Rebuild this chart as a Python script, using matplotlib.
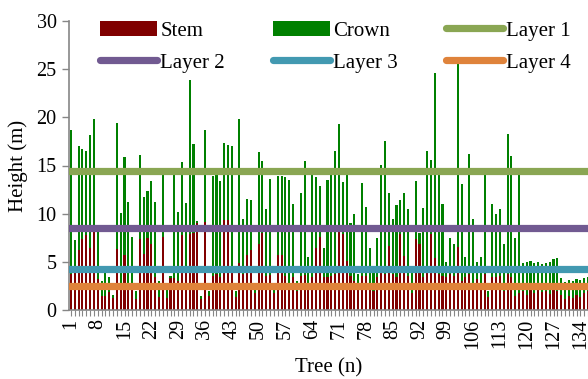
import numpy as np
import matplotlib
matplotlib.use("Agg")
import matplotlib.pyplot as plt

plt.rcParams['font.family'] = ['Liberation Serif', 'DejaVu Serif']

# hauteur totale et hauteur du tronc (m) pour chaque arbre
total = [18.7, 7.3, 17.0, 16.7, 16.5, 18.2, 19.8, 8.2, 3.0, 4.0,
         3.5, 1.6, 19.4, 10.1, 15.9, 11.2, 7.6, 2.0, 16.1, 11.7,
         12.4, 13.4, 11.2, 3.0, 14.1, 2.2, 3.6, 14.1, 10.2, 15.4,
         11.1, 23.9, 17.2, 9.3, 1.5, 18.7, 2.0, 13.9, 14.0, 13.4,
         17.3, 17.1, 17.0, 2.0, 19.8, 9.5, 11.5, 11.4, 2.5, 16.4,
         15.5, 10.5, 13.6, 2.5, 13.9, 13.9, 13.8, 13.5, 11.0, 3.0,
         12.1, 15.5, 5.5, 14.0, 13.8, 12.9, 6.5, 13.5, 14.0, 16.5,
         19.3, 13.3, 14.0, 9.0, 10.0, 3.8, 13.2, 10.7, 6.5, 4.0,
         7.5, 15.1, 17.5, 12.2, 9.5, 10.9, 11.4, 12.1, 10.5, 4.0,
         13.4, 8.0, 10.6, 16.5, 15.6, 24.6, 14.0, 11.0, 5.0, 7.5,
         6.9, 25.8, 13.1, 5.5, 16.2, 9.5, 5.0, 5.5, 14.0, 2.0,
         11.0, 10.0, 10.5, 6.9, 18.3, 16.0, 7.5, 14.0, 4.9, 5.0,
         5.1, 4.9, 5.0, 4.8, 4.9, 5.0, 5.3, 5.4, 3.3, 2.9,
         3.1, 3.0, 3.2, 3.1, 3.3, 3.5]
stem = [3.8, 4.0, 6.2, 7.4, 7.8, 6.5, 8.2, 3.2, 1.5, 1.5,
        1.9, 1.3, 6.4, 2.8, 5.7, 2.5, 2.3, 1.2, 7.4, 5.8,
        7.5, 6.9, 3.5, 1.4, 7.6, 1.3, 3.3, 3.3, 3.0, 7.8,
        4.2, 7.9, 8.0, 9.0, 1.2, 9.1, 1.5, 3.6, 3.8, 3.5,
        9.4, 9.4, 3.9, 1.4, 4.9, 3.8, 5.7, 6.2, 1.8, 6.9,
        8.0, 3.6, 3.7, 1.8, 5.7, 5.7, 3.6, 2.8, 3.5, 2.0,
        3.6, 3.7, 2.6, 3.5, 6.5, 7.6, 3.5, 3.5, 3.6, 3.8,
        8.2, 7.9, 5.1, 3.6, 3.0, 2.5, 3.6, 3.6, 2.8, 2.0,
        3.5, 4.0, 3.8, 6.7, 3.8, 3.5, 7.9, 5.6, 3.6, 1.8,
        7.4, 6.9, 3.5, 4.0, 7.9, 5.4, 3.8, 3.6, 3.5, 3.8,
        3.6, 6.6, 3.0, 3.5, 3.8, 2.5, 3.2, 2.6, 3.8, 1.4,
        3.5, 3.5, 3.6, 2.0, 3.8, 3.5, 1.5, 1.8, 2.0, 1.6,
        2.2, 1.8, 2.1, 1.9, 2.0, 1.7, 2.2, 2.0, 1.6, 1.2,
        1.5, 1.3, 1.6, 1.4, 1.8, 2.0]

couches = ["Layer 1", "Layer 2", "Layer 3", "Layer 4"]
hauteurs_couches = [14.4, 8.56, 4.31, 2.49]
couleurs_couches = ["#8AA653", "#715A91", "#4299B1", "#DF833B"]

arbres = np.arange(1, len(total) + 1)
couronne = np.array(total) - np.array(stem)

fig = plt.figure(figsize=(5.88, 3.79), dpi=100)
ax = fig.add_axes([69 / 588, 1 - 310.3 / 379, 1 - 69 / 588, (310.3 - 20.7) / 379])

b1 = ax.bar(arbres, stem, width=0.55, color="#800000", linewidth=0)
b2 = ax.bar(arbres, couronne, bottom=stem, width=0.55, color="#008000", linewidth=0)

lignes = []
for nom, h, c in zip(couches, hauteurs_couches, couleurs_couches):
    l = ax.axhline(h, color=c, linewidth=5.2, solid_capstyle="round", zorder=3)
    lignes.append(l)

ax.set_xlim(0.5, 135.6)
ax.set_ylim(0, 30)
ax.set_yticks(np.arange(0, 31, 5))
ax.set_xticks(arbres)
ax.set_xticklabels([str(a) if (a - 1) % 7 == 0 else "" for a in arbres],
                   rotation=90, fontsize=14.5)
ax.tick_params(axis="y", labelsize=14.5, color="#868686", length=5, width=1, pad=4)
ax.tick_params(axis="x", color="#868686", length=4, width=0.8, pad=2)
for s in ["top", "right"]:
    ax.spines[s].set_visible(False)
for s in ["left", "bottom"]:
    ax.spines[s].set_color("#868686")
    ax.spines[s].set_linewidth(1.2)

ax.set_ylabel("Height (m)", fontsize=15, labelpad=6)
ax.set_xlabel("Tree (n)", fontsize=15, labelpad=7)

# ordre : colonne par colonne
poignees = [b1, lignes[1], b2, lignes[2], lignes[0], lignes[3]]
noms = ["Stem", "Layer 2", "Crown", "Layer 3", "Layer 1", "Layer 4"]
ax.legend(poignees, noms, ncol=3, loc="upper left", frameon=False,
          bbox_to_anchor=(100 / 588, 1 - 21 / 379), bbox_transform=fig.transFigure,
          borderaxespad=0, borderpad=0, fontsize=15, handlelength=2.75,
          handletextpad=0.15, columnspacing=2.3, labelspacing=0.6)

fig.savefig("out.png", dpi=100)
